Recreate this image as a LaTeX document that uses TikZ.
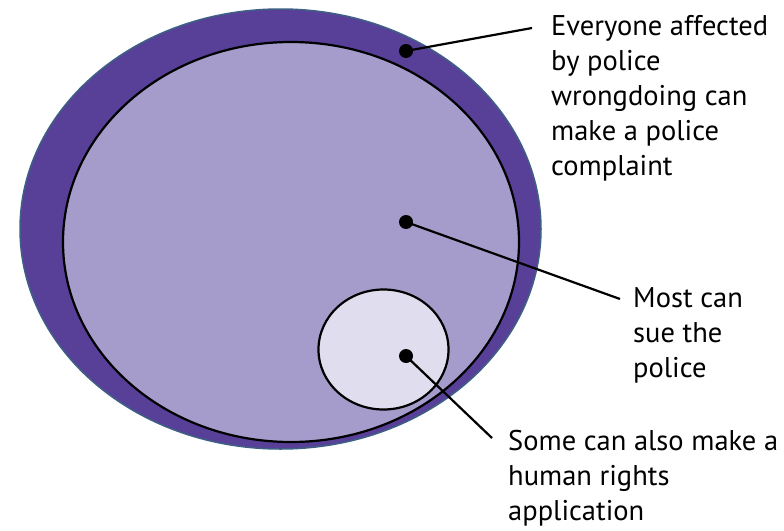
\documentclass[tikz,border=0pt]{standalone}
\usepackage{fontspec}
\setmainfont{PT Sans}
\definecolor{outerfill}{RGB}{88,64,152}
\definecolor{outeredge}{RGB}{62,96,132}
\definecolor{innerfill}{RGB}{165,156,203}
\definecolor{smallfill}{RGB}{224,221,239}
\begin{document}
\begin{tikzpicture}[x=1pt,y=-1pt,
  region/.style={draw=black,line width=2.2pt},
  dotmark/.style={circle,fill=black,inner sep=0pt,minimum size=14pt},
  leader/.style={draw=black,line width=2.2pt},
  label/.style={anchor=north west,inner sep=0pt,align=left,font=\fontsize{28.5}{35}\selectfont}]
\useasboundingbox (0,0) rectangle (784,530);
\fill[outerfill,draw=outeredge,line width=1.5pt] (280.5,229) ellipse [x radius=260.5,y radius=220];
\filldraw[fill=innerfill,region] (291,242) ellipse [x radius=228,y radius=200];
\filldraw[fill=smallfill,region] (383.5,349.5) ellipse [x radius=65,y radius=60];
\node[dotmark] (d1) at (406,51) {};
\node[dotmark] (d2) at (406,222) {};
\node[dotmark] (d3) at (406,356) {};
\coordinate (e1) at (532,28);
\coordinate (e2) at (620,299);
\coordinate (e3) at (492,438);
\draw[leader] (d1.center) -- (e1);
\draw[leader] (d2.center) -- (e2);
\draw[leader] (d3.center) -- (e3);
\node[label] (t1) at (551,15) {Everyone affected\\by police\\wrongdoing can\\make a police\\complaint};
\node[label] (t2) at (633,287) {Most can\\sue the\\police};
\node[label] (t3) at (508,430) {Some can also make a\\human rights\\application};
\end{tikzpicture}
\end{document}
